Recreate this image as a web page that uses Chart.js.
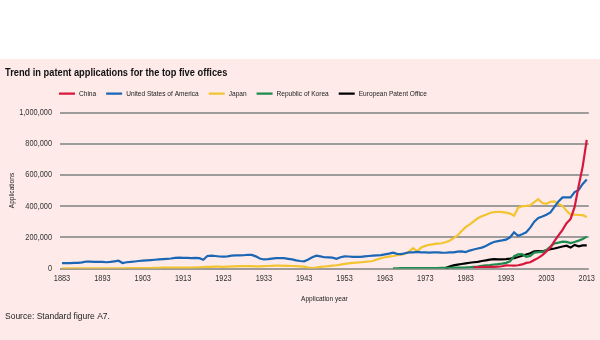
<!DOCTYPE html>
<html>
<head>
<meta charset="utf-8">
<script src="https://cdn.jsdelivr.net/npm/chart.js@4.4.1/dist/chart.umd.min.js"></script>
<style>
  html, body { margin: 0; padding: 0; }
  body {
    width: 600px; height: 340px; overflow: hidden;
    background: linear-gradient(to bottom, #ffffff 0px, #ffffff 59px, #fdeae9 59px, #fdeae9 340px);
  }
  canvas { display: block; }
</style>
</head>
<body>
<canvas id="chart" width="600" height="340"></canvas>
<script>
// ---------------- DATA (applications, in thousands) ----------------
const chartTitle = 'Trend in patent applications for the top five offices';
const sourceNote = 'Source: Standard figure A7.';
const xAxisTitle = 'Application year';
const yAxisTitle = 'Applications';

const seriesNames = ['China', 'United States of America', 'Japan', 'Republic of Korea', 'European Patent Office'];

// first year of each series
const chinaStart = 1985;
const usStart = 1883;
const japanStart = 1883;
const koreaStart = 1965;
const epoStart = 1978;

const chinaValues = [
  8.6, 8.0, 9.9, 11.3, 10.2, 10.1, 11.4, 14.4, 19.6, 19.1,
  19, 21, 26, 36, 40, 55, 68, 86, 110, 135,
  175, 212, 248, 290, 318, 395, 530, 655, 825
];

const usValues = [
  35, 35, 35, 36, 36, 39, 45, 44, 43, 42,
  42, 40, 42, 46, 50, 35, 40, 42, 45, 48,
  50, 52, 54, 56, 58, 60, 62, 64, 68, 70,
  68, 68, 67, 68, 66, 56, 80, 82, 80, 77,
  76, 78, 82, 84, 84, 85, 88, 87, 78, 64,
  58, 60, 63, 66, 67, 66, 62, 58, 52, 48,
  46, 58, 72, 82, 78, 72, 71, 70, 62, 72,
  78, 77, 75, 74, 75, 78, 80, 82, 84, 86,
  91, 95, 101, 94, 92, 98, 103, 104, 107, 104,
  103, 102, 103, 104, 102, 101, 103, 104, 108, 110,
  105, 115, 122, 128, 134, 145, 158, 170, 176, 180,
  185, 200, 232, 210, 220, 232, 262, 300, 324, 334,
  345, 360, 395, 430, 456, 456, 456, 490, 504, 542, 571
];

const japanValues = [
  1, 1, 1, 1, 1, 1, 1, 1, 1, 1,
  1, 1, 1, 1, 1, 1, 2, 2, 2, 2,
  3, 3, 3, 4, 4, 5, 5, 5, 5, 6,
  6, 6, 6, 7, 8, 9, 10, 11, 12, 12,
  11, 12, 13, 14, 15, 15, 15, 15, 14, 14,
  15, 16, 17, 18, 18, 17, 17, 16, 15, 14,
  12, 6, 3, 6, 10, 13, 15, 18, 21, 25,
  30, 33, 36, 38, 40, 42, 45, 48, 58, 66,
  72, 76, 80, 85, 88, 95, 110, 131, 110, 135,
  145, 152, 156, 160, 162, 168, 178, 195, 212, 240,
  265, 283, 302, 322, 335, 345, 356, 362, 364, 362,
  358, 352, 338, 390, 400, 402, 405, 425, 445, 420,
  415, 428, 430, 413, 400, 370, 345, 345, 343, 342, 330
];

const koreaValues = [
  1.5, 1.7, 1.8, 1.9, 2.0, 2.2, 2.4, 2.5, 2.7, 2.9,
  2.9, 3.2, 3.6, 4.0, 4.7, 5.1, 5.3, 5.9, 6.7, 8.1,
  10.6, 12.8, 17.1, 20.1, 21.2, 25.8, 28.1, 31.1, 36, 45.7,
  78.5, 90.3, 92.7, 75.2, 80.6, 102, 104.6, 106.1, 118.7, 140.1,
  160.9, 166.2, 172.5, 170.6, 163.5, 170.1, 178.9, 188.9, 204.6
];

const epoValues = [
  3, 12, 20, 25, 29, 33, 37, 40, 43, 48,
  52, 57, 60, 58, 59, 60, 63, 67, 74, 82,
  90, 98, 110, 112, 110, 116, 124, 128, 135, 141,
  146, 134, 151, 142, 148, 148
];

const xTickYears = [1883, 1893, 1903, 1913, 1923, 1933, 1943, 1953, 1963, 1973, 1983, 1993, 2003, 2013];
const yTickValues = [0, 200, 400, 600, 800, 1000];
const yTickLabels = ['0', '200,000', '400,000', '600,000', '800,000', '1,000,000'];

// ---------------- STYLE ----------------
const colors = ['#d6183d', '#1b66b5', '#f3c432', '#1d8b4d', '#000000'];
// "Narrow" face is emulated by horizontally condensing Liberation Sans glyphs
const NARROW = "'Liberation Sans Narrow', 'Liberation Sans', Arial, sans-serif";
const REGULAR = "'Liberation Sans', Arial, sans-serif";
const NARROW_SCALE = 0.82;
const LEGEND_START_X = 59;

const canvas = document.getElementById('chart');
const ctx = canvas.getContext('2d');
(function installNarrowText(c) {
  const isNarrow = () => c.font.indexOf('Narrow') !== -1;
  const origFill = c.fillText.bind(c);
  const origMeasure = c.measureText.bind(c);
  c.fillText = function (text, x, y, maxWidth) {
    if (!isNarrow()) {
      return maxWidth === undefined ? origFill(text, x, y) : origFill(text, x, y, maxWidth);
    }
    c.save();
    c.translate(x, y);
    c.scale(NARROW_SCALE, 1);
    if (maxWidth === undefined) origFill(text, 0, 0);
    else origFill(text, 0, 0, maxWidth / NARROW_SCALE);
    c.restore();
  };
  c.measureText = function (text) {
    const m = origMeasure(text);
    if (!isNarrow()) return m;
    return {
      width: m.width * NARROW_SCALE,
      actualBoundingBoxLeft: m.actualBoundingBoxLeft * NARROW_SCALE,
      actualBoundingBoxRight: m.actualBoundingBoxRight * NARROW_SCALE,
      actualBoundingBoxAscent: m.actualBoundingBoxAscent,
      actualBoundingBoxDescent: m.actualBoundingBoxDescent,
      fontBoundingBoxAscent: m.fontBoundingBoxAscent,
      fontBoundingBoxDescent: m.fontBoundingBoxDescent
    };
  };
})(ctx);

function toPoints(start, values) {
  return values.map((v, i) => ({ x: start + i, y: v }));
}

const seriesData = [
  toPoints(chinaStart, chinaValues),
  toPoints(usStart, usValues),
  toPoints(japanStart, japanValues),
  toPoints(koreaStart, koreaValues),
  toPoints(epoStart, epoValues)
];

const layoutTweaks = {
  id: 'layoutTweaks',
  beforeInit(chart) {
    const lg = chart.legend;
    if (lg) {
      const origFit = lg.fit;
      lg.fit = function () {
        origFit.call(this);
        this.height += 5;
      };
    }
  },
  afterLayout(chart) {
    const lg = chart.legend;
    if (lg) {
      const pad = lg.options.labels.padding;
      const w = lg.right - lg.left;
      lg.left = LEGEND_START_X - pad;
      lg.right = lg.left + w;
    }
  }
};

new Chart(ctx, {
  type: 'line',
  data: {
    datasets: seriesNames.map((name, i) => ({
      label: name,
      data: seriesData[i],
      borderColor: colors[i],
      backgroundColor: colors[i],
      borderWidth: 2.2,
      pointRadius: 0,
      pointHoverRadius: 0,
      tension: 0,
      fill: false
    }))
  },
  options: {
    responsive: false,
    animation: false,
    devicePixelRatio: 1,
    layout: { padding: { top: 62, left: 5, right: 11, bottom: 18 } },
    plugins: {
      title: {
        display: true,
        text: chartTitle,
        align: 'start',
        color: '#111111',
        font: { family: NARROW, size: 11.3, weight: 'bold' },
        padding: { top: 4, bottom: 0 }
      },
      subtitle: {
        display: true,
        position: 'bottom',
        text: sourceNote,
        align: 'start',
        color: '#222222',
        font: { family: REGULAR, size: 8.5, weight: 'normal' },
        padding: { top: 7.8, bottom: 0 }
      },
      legend: {
        display: true,
        position: 'top',
        align: 'start',
        labels: {
          usePointStyle: true,
          pointStyle: 'line',
          pointStyleWidth: 16,
          boxHeight: 8,
          padding: 10,
          color: '#222222',
          font: { family: NARROW, size: 8 }
        }
      },
      tooltip: { enabled: false }
    },
    scales: {
      x: {
        type: 'linear',
        min: 1882.5,
        max: 2013.5,
        afterBuildTicks(scale) { scale.ticks = xTickYears.map(v => ({ value: v })); },
        afterFit(scale) { scale.height = 35.5; },
        ticks: {
          autoSkip: false,
          maxRotation: 0,
          padding: 5,
          color: '#333333',
          font: { family: NARROW, size: 9 },
          callback: (v, i) => String(xTickYears[i])
        },
        grid: { display: false, drawTicks: false },
        border: { display: false },
        title: {
          display: true,
          text: xAxisTitle,
          color: '#222222',
          font: { family: NARROW, size: 8 },
          padding: { top: 0, bottom: 0 }
        }
      },
      y: {
        type: 'linear',
        min: 0,
        max: 1000,
        afterBuildTicks(scale) { scale.ticks = yTickValues.map(v => ({ value: v })); },
        afterFit(scale) { scale.width = 55; },
        ticks: {
          padding: 8,
          color: '#333333',
          font: { family: NARROW, size: 9 },
          callback: (v, i) => yTickLabels[i]
        },
        grid: { color: '#9e9b9b', lineWidth: 2, drawTicks: false },
        border: { display: false },
        title: {
          display: true,
          text: yAxisTitle,
          color: '#222222',
          font: { family: NARROW, size: 8 },
          padding: { top: 2.2, bottom: 0 }
        }
      }
    }
  },
  plugins: [layoutTweaks]
});
</script>
</body>
</html>
